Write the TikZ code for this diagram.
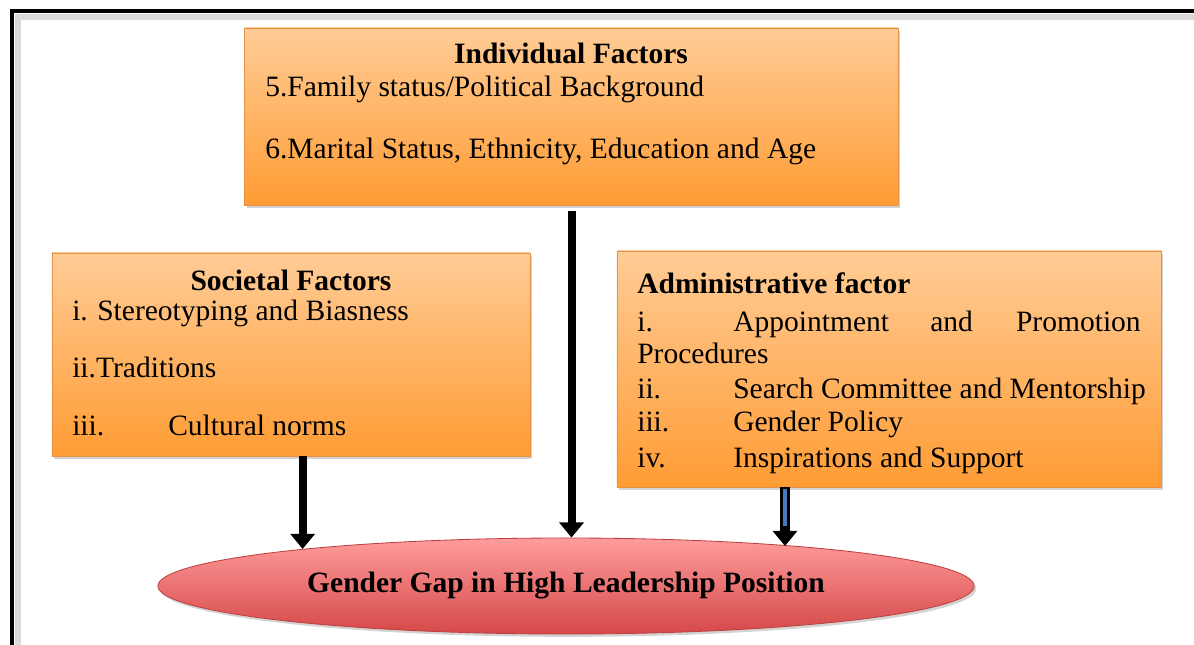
\documentclass[tikz,border=0pt]{standalone}
\usepackage{fontspec}
\setmainfont{Liberation Serif}
\usepackage{tikz}
\usetikzlibrary{shapes.geometric, arrows.meta, positioning, shadows}
\definecolor{boxtop}{RGB}{255,204,150}
\definecolor{boxbot}{RGB}{255,156,52}
\definecolor{boxline}{RGB}{228,146,70}
\definecolor{gaptop}{RGB}{255,156,156}
\definecolor{gapbot}{RGB}{214,72,72}
\definecolor{gapline}{RGB}{190,65,65}
\definecolor{arrowblue}{RGB}{72,122,192}

\begin{document}
\begin{tikzpicture}[
    x=0.025cm, y=-0.025cm,
    factor/.style={rectangle, draw=boxline, line width=0.6pt, top color=boxtop, bottom color=boxbot, drop shadow={shadow xshift=1.5pt, shadow yshift=-2pt, opacity=0.35}},
    item/.style={anchor=base west, inner sep=0pt, font=\fontsize{21}{25}\selectfont},
    head/.style={anchor=base, inner sep=0pt, font=\fontsize{21}{25}\selectfont\bfseries},
    outcome/.style={ellipse, draw=gapline, line width=0.6pt, top color=gaptop, bottom color=gapbot, minimum width=20.4cm, minimum height=2.4cm, inner sep=0pt, font=\fontsize{21}{25}\selectfont\bfseries, drop shadow={shadow xshift=1.5pt, shadow yshift=-2pt, opacity=0.35}},
    bigarrow/.style={-{Triangle[width=0.6cm, length=0.38cm]}, line width=0.2cm}
]
    \useasboundingbox (0,0) rectangle (1194,644);
    \draw[gray!30, line width=4pt] (18,17) rectangle (1230,690);
    \draw[line width=3pt] (12,11) rectangle (1230,690);

    \node[factor, minimum width=16.325cm, minimum height=4.425cm] (indiv) at (571.5,116.5) {};
    \node[factor, minimum width=11.95cm, minimum height=5.075cm] (societal) at (291,354.5) {};
    \node[factor, minimum width=13.6cm, minimum height=5.9cm] (admin) at (889,369) {};
    \node[outcome] (gap) at (566,586) {Gender Gap in High Leadership Position};
    \coordinate (admtip) at (785,546);

    \node[head] (indivhead) at (571,63) {Individual Factors};
    \node[item] (indiv1) at (265,97) {5.Family status/Political Background};
    \node[item] (indiv2) at (265,158) {6.Marital Status, Ethnicity, Education and Age};

    \node[head] (sochead) at (291,290) {Societal Factors};
    \node[item] (soc1n) at (72,320) {i.};
    \node[item] (soc1) at (97,320) {Stereotyping and Biasness};
    \node[item] (soc2) at (72,377) {ii.Traditions};
    \node[item] (soc3n) at (72,435) {iii.};
    \node[item] (soc3) at (168,435) {Cultural norms};

    \node[item, font=\fontsize{21}{25}\selectfont\bfseries] (admhead) at (637,293) {Administrative factor};
    \node[item] (adm1n) at (637,331) {i.};
    \node[item] (adm1a) at (733,331) {Appointment};
    \node[item] (adm1b) at (930,331) {and};
    \node[item, anchor=base east] (adm1c) at (1141,331) {Promotion};
    \node[item] (adm1d) at (637,363) {Procedures};
    \node[item] (adm2n) at (637,398) {ii.};
    \node[item] (adm2) at (733,398) {Search Committee and Mentorship};
    \node[item] (adm3n) at (637,431) {iii.};
    \node[item] (adm3) at (733,431) {Gender Policy};
    \node[item] (adm4n) at (637,467) {iv.};
    \node[item] (adm4) at (733,467) {Inspirations and Support};

    \draw[bigarrow] (societal.south -| gap.172.5) -- (gap.172.5);
    \draw[bigarrow, shorten <=4pt] (indiv.south) -- (indiv.south |- gap.north);
    \draw[bigarrow, line width=0.25cm] (admin.south -| admtip) -- (admtip);
    \draw[arrowblue, line width=0.12cm, shorten <=1pt, shorten >=0.5cm] (admin.south -| admtip) -- (admtip);
\end{tikzpicture}
\end{document}
